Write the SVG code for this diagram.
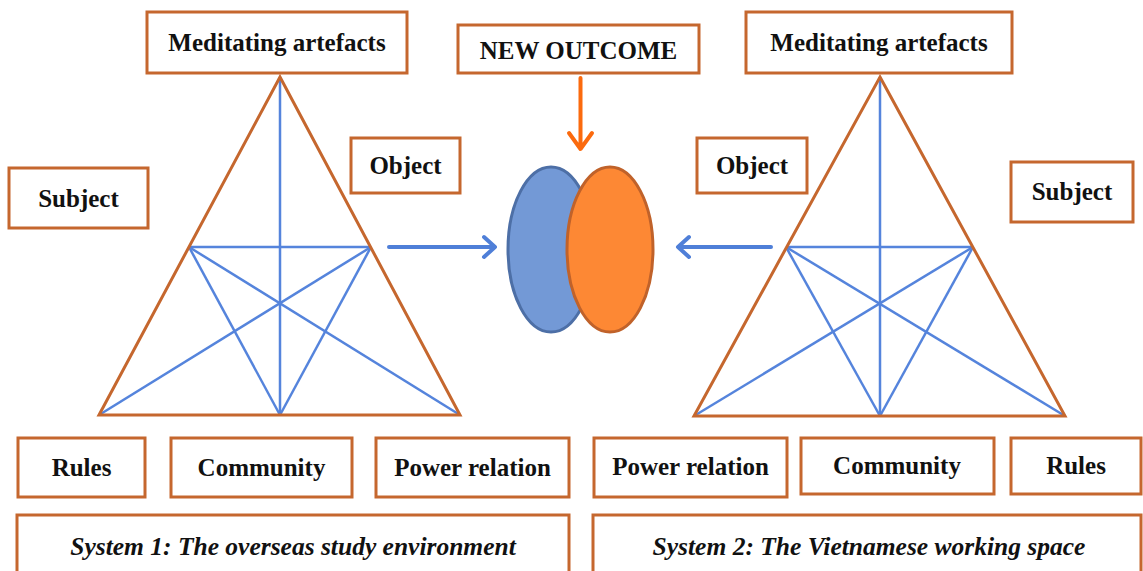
<svg xmlns="http://www.w3.org/2000/svg" width="1143" height="571" viewBox="0 0 1143 571">
  <style>
    .box { fill: #ffffff; stroke: #c5672e; stroke-width: 3; }
    .lbl { font-family: "Liberation Serif", "Times New Roman", serif; font-weight: bold; font-size: 25px; fill: #111111; text-anchor: middle; }
    .cap { font-family: "Liberation Serif", "Times New Roman", serif; font-weight: bold; font-style: italic; font-size: 25.5px; fill: #111111; text-anchor: middle; }
    .tri { fill: none; stroke: #c5672e; stroke-width: 3; stroke-linejoin: miter; }
    .web { fill: none; stroke: #5584dc; stroke-width: 2.5; }
    .flow { fill: none; stroke: #4f7fd8; stroke-width: 4; stroke-linecap: round; stroke-linejoin: round; }
    .out { fill: none; stroke: #fb6a0e; stroke-width: 4; stroke-linecap: round; stroke-linejoin: round; }
  </style>

  <!-- System 1 activity triangle -->
  <g id="triangle-1">
    <line class="web" x1="280" y1="77" x2="280" y2="415"/>
    <line class="web" x1="189" y1="247" x2="371" y2="247"/>
    <line class="web" x1="189" y1="247" x2="280" y2="415"/>
    <line class="web" x1="371" y1="247" x2="280" y2="415"/>
    <line class="web" x1="189" y1="247" x2="460" y2="415"/>
    <line class="web" x1="371" y1="247" x2="99" y2="415"/>
    <polygon class="tri" points="280,77 460,415 99,415"/>
  </g>

  <!-- System 2 activity triangle -->
  <g id="triangle-2">
    <line class="web" x1="880" y1="77" x2="880" y2="416"/>
    <line class="web" x1="786" y1="247" x2="973" y2="247"/>
    <line class="web" x1="786" y1="247" x2="880" y2="416"/>
    <line class="web" x1="973" y1="247" x2="880" y2="416"/>
    <line class="web" x1="786" y1="247" x2="1065" y2="416"/>
    <line class="web" x1="973" y1="247" x2="694" y2="416"/>
    <polygon class="tri" points="880,77 1065,416 694,416"/>
  </g>

  <!-- Shared outcome: overlapping ellipses -->
  <g id="outcome">
    <ellipse cx="551" cy="249.5" rx="43" ry="82.5" fill="#7399d6" stroke="#4d6fa6" stroke-width="3"/>
    <ellipse cx="610" cy="249.5" rx="43" ry="82.5" fill="#fd8834" stroke="#c0622a" stroke-width="3"/>
  </g>

  <!-- Connectors -->
  <g id="connectors">
    <path class="flow" d="M389,247 H494 M484,237 L495,247 L484,257"/>
    <path class="flow" d="M771,247 H679 M689,237 L678,247 L689,257"/>
    <path class="out" d="M580.5,78 V148 M569,133 L580.5,149 L592,133"/>
  </g>

  <!-- System 1 labels -->
  <g id="s1-artefacts">
    <rect class="box" x="147" y="12" width="260" height="61"/>
    <text class="lbl" x="277" y="51">Meditating artefacts</text>
  </g>
  <g id="s1-subject">
    <rect class="box" x="9" y="168" width="139" height="60"/>
    <text class="lbl" x="78.5" y="207">Subject</text>
  </g>
  <g id="s1-object">
    <rect class="box" x="351" y="138" width="109" height="55"/>
    <text class="lbl" x="405.5" y="174">Object</text>
  </g>
  <g id="s1-rules">
    <rect class="box" x="18" y="438" width="127" height="59"/>
    <text class="lbl" x="81.5" y="476">Rules</text>
  </g>
  <g id="s1-community">
    <rect class="box" x="171" y="438" width="181" height="59"/>
    <text class="lbl" x="261.5" y="476">Community</text>
  </g>
  <g id="s1-power">
    <rect class="box" x="376" y="438" width="193" height="59"/>
    <text class="lbl" x="472.5" y="476">Power relation</text>
  </g>
  <g id="s1-caption">
    <rect class="box" x="17" y="515" width="552" height="70"/>
    <text class="cap" x="293" y="555">System 1: The overseas study environment</text>
  </g>

  <!-- Outcome label -->
  <g id="new-outcome">
    <rect class="box" x="458" y="25" width="241" height="48"/>
    <text class="lbl" x="578.5" y="59">NEW OUTCOME</text>
  </g>

  <!-- System 2 labels -->
  <g id="s2-artefacts">
    <rect class="box" x="746" y="12" width="266" height="61"/>
    <text class="lbl" x="879" y="51">Meditating artefacts</text>
  </g>
  <g id="s2-object">
    <rect class="box" x="697" y="138" width="110" height="55"/>
    <text class="lbl" x="752" y="174">Object</text>
  </g>
  <g id="s2-subject">
    <rect class="box" x="1011" y="162" width="122" height="60"/>
    <text class="lbl" x="1072" y="200">Subject</text>
  </g>
  <g id="s2-power">
    <rect class="box" x="594" y="438" width="193" height="59"/>
    <text class="lbl" x="690.5" y="475">Power relation</text>
  </g>
  <g id="s2-community">
    <rect class="box" x="801" y="438" width="193" height="56"/>
    <text class="lbl" x="897" y="474">Community</text>
  </g>
  <g id="s2-rules">
    <rect class="box" x="1011" y="438" width="130" height="56"/>
    <text class="lbl" x="1076" y="474">Rules</text>
  </g>
  <g id="s2-caption">
    <rect class="box" x="593" y="515" width="548" height="70"/>
    <text class="cap" x="869" y="555">System 2: The Vietnamese working space</text>
  </g>
</svg>
